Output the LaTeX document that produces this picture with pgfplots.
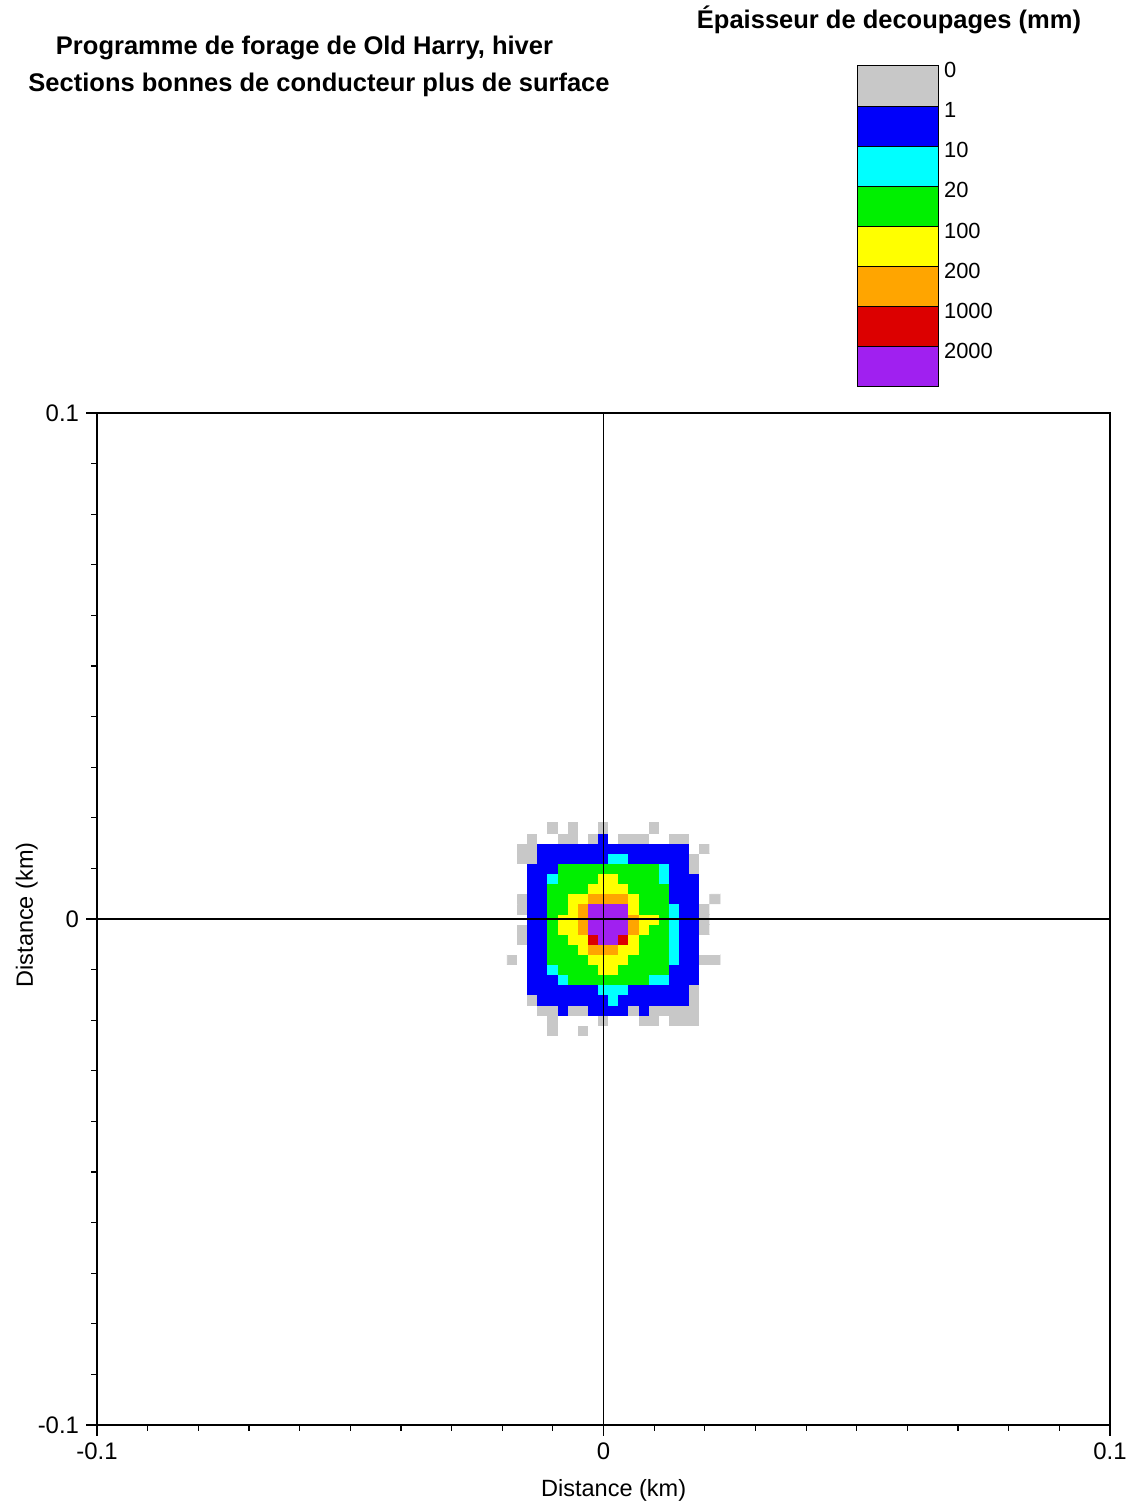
\documentclass[border=0pt]{standalone}
\usepackage{fontspec}
\setmainfont{Liberation Sans}
\usepackage{pgfplots}
\pgfplotsset{compat=1.18}
\definecolor{cgray}{RGB}{200,200,200}
\definecolor{cblue}{RGB}{0,0,250}
\definecolor{ccyan}{RGB}{0,255,255}
\definecolor{cgreen}{RGB}{0,240,0}
\definecolor{cyellow}{RGB}{255,255,0}
\definecolor{corange}{RGB}{255,165,0}
\definecolor{cred}{RGB}{220,0,0}
\definecolor{cpurple}{RGB}{160,32,240}
\begin{document}
\begin{tikzpicture}[x=1bp,y=1bp]
\path[use as bounding box] (0,0) rectangle (566,752.5);
\begin{axis}[
  at={(48.5bp,40bp)}, anchor=south west,
  scale only axis, width=506.5bp, height=506bp,
  xmin=-0.1, xmax=0.1, ymin=-0.1, ymax=0.1,
  xtick={-0.1,0,0.1}, ytick={-0.1,0,0.1},
  xticklabels={-0.1,0,0.1}, yticklabels={-0.1,0,0.1},
  minor tick num=9,
  tick align=outside, tick pos=left,
  major tick length=5.5bp, minor tick length=3bp,
  tick style={black, line width=0.6bp},
  grid=major, major grid style={black, line width=0.6bp},
  axis on top,
  axis line style={line width=0.6bp},
  tick label style={font=\fontsize{12}{14}\selectfont},
  xlabel={Distance (km)}, ylabel={Distance (km)},
  label style={font=\fontsize{11.8}{14}\selectfont},
  xlabel style={at={(axis description cs:0.51,0)}, anchor=base, yshift=-36bp},
  ylabel style={at={(axis description cs:-0.0632,0.504)}, anchor=base},
  colormap={cuttings}{rgb255=(255,255,255) rgb255=(200,200,200) rgb255=(0,0,250) rgb255=(0,255,255) rgb255=(0,240,0) rgb255=(255,255,0) rgb255=(255,165,0) rgb255=(220,0,0) rgb255=(160,32,240)},
  colormap access=direct,
]
\addplot[matrix plot*, mesh/cols=21, point meta=explicit] table[row sep=\\, meta=c] {
x y c\\
-0.018 -0.022 0\\ -0.016 -0.022 0\\ -0.014 -0.022 0\\ -0.012 -0.022 0\\ -0.010 -0.022 1\\ -0.008 -0.022 0\\ -0.006 -0.022 0\\ -0.004 -0.022 1\\ -0.002 -0.022 0\\ 0 -0.022 0\\ 0.002 -0.022 0\\ 0.004 -0.022 0\\ 0.006 -0.022 0\\ 0.008 -0.022 0\\ 0.010 -0.022 0\\ 0.012 -0.022 0\\ 0.014 -0.022 0\\ 0.016 -0.022 0\\ 0.018 -0.022 0\\ 0.020 -0.022 0\\ 0.022 -0.022 0\\
-0.018 -0.020 0\\ -0.016 -0.020 0\\ -0.014 -0.020 0\\ -0.012 -0.020 0\\ -0.010 -0.020 1\\ -0.008 -0.020 0\\ -0.006 -0.020 0\\ -0.004 -0.020 0\\ -0.002 -0.020 0\\ 0 -0.020 1\\ 0.002 -0.020 0\\ 0.004 -0.020 0\\ 0.006 -0.020 0\\ 0.008 -0.020 1\\ 0.010 -0.020 1\\ 0.012 -0.020 0\\ 0.014 -0.020 1\\ 0.016 -0.020 1\\ 0.018 -0.020 1\\ 0.020 -0.020 0\\ 0.022 -0.020 0\\
-0.018 -0.018 0\\ -0.016 -0.018 0\\ -0.014 -0.018 0\\ -0.012 -0.018 1\\ -0.010 -0.018 1\\ -0.008 -0.018 2\\ -0.006 -0.018 1\\ -0.004 -0.018 1\\ -0.002 -0.018 2\\ 0 -0.018 2\\ 0.002 -0.018 2\\ 0.004 -0.018 2\\ 0.006 -0.018 1\\ 0.008 -0.018 2\\ 0.010 -0.018 1\\ 0.012 -0.018 1\\ 0.014 -0.018 1\\ 0.016 -0.018 1\\ 0.018 -0.018 1\\ 0.020 -0.018 0\\ 0.022 -0.018 0\\
-0.018 -0.016 0\\ -0.016 -0.016 0\\ -0.014 -0.016 1\\ -0.012 -0.016 2\\ -0.010 -0.016 2\\ -0.008 -0.016 2\\ -0.006 -0.016 2\\ -0.004 -0.016 2\\ -0.002 -0.016 2\\ 0 -0.016 2\\ 0.002 -0.016 3\\ 0.004 -0.016 2\\ 0.006 -0.016 2\\ 0.008 -0.016 2\\ 0.010 -0.016 2\\ 0.012 -0.016 2\\ 0.014 -0.016 2\\ 0.016 -0.016 2\\ 0.018 -0.016 1\\ 0.020 -0.016 0\\ 0.022 -0.016 0\\
-0.018 -0.014 0\\ -0.016 -0.014 0\\ -0.014 -0.014 2\\ -0.012 -0.014 2\\ -0.010 -0.014 2\\ -0.008 -0.014 2\\ -0.006 -0.014 2\\ -0.004 -0.014 2\\ -0.002 -0.014 2\\ 0 -0.014 3\\ 0.002 -0.014 3\\ 0.004 -0.014 3\\ 0.006 -0.014 2\\ 0.008 -0.014 2\\ 0.010 -0.014 2\\ 0.012 -0.014 2\\ 0.014 -0.014 2\\ 0.016 -0.014 2\\ 0.018 -0.014 1\\ 0.020 -0.014 0\\ 0.022 -0.014 0\\
-0.018 -0.012 0\\ -0.016 -0.012 0\\ -0.014 -0.012 2\\ -0.012 -0.012 2\\ -0.010 -0.012 2\\ -0.008 -0.012 3\\ -0.006 -0.012 4\\ -0.004 -0.012 4\\ -0.002 -0.012 4\\ 0 -0.012 4\\ 0.002 -0.012 4\\ 0.004 -0.012 4\\ 0.006 -0.012 4\\ 0.008 -0.012 4\\ 0.010 -0.012 3\\ 0.012 -0.012 3\\ 0.014 -0.012 2\\ 0.016 -0.012 2\\ 0.018 -0.012 2\\ 0.020 -0.012 0\\ 0.022 -0.012 0\\
-0.018 -0.010 0\\ -0.016 -0.010 0\\ -0.014 -0.010 2\\ -0.012 -0.010 2\\ -0.010 -0.010 3\\ -0.008 -0.010 4\\ -0.006 -0.010 4\\ -0.004 -0.010 4\\ -0.002 -0.010 4\\ 0 -0.010 5\\ 0.002 -0.010 5\\ 0.004 -0.010 4\\ 0.006 -0.010 4\\ 0.008 -0.010 4\\ 0.010 -0.010 4\\ 0.012 -0.010 4\\ 0.014 -0.010 2\\ 0.016 -0.010 2\\ 0.018 -0.010 2\\ 0.020 -0.010 0\\ 0.022 -0.010 0\\
-0.018 -0.008 1\\ -0.016 -0.008 0\\ -0.014 -0.008 2\\ -0.012 -0.008 2\\ -0.010 -0.008 4\\ -0.008 -0.008 4\\ -0.006 -0.008 4\\ -0.004 -0.008 4\\ -0.002 -0.008 5\\ 0 -0.008 5\\ 0.002 -0.008 5\\ 0.004 -0.008 5\\ 0.006 -0.008 4\\ 0.008 -0.008 4\\ 0.010 -0.008 4\\ 0.012 -0.008 4\\ 0.014 -0.008 3\\ 0.016 -0.008 2\\ 0.018 -0.008 2\\ 0.020 -0.008 1\\ 0.022 -0.008 1\\
-0.018 -0.006 0\\ -0.016 -0.006 0\\ -0.014 -0.006 2\\ -0.012 -0.006 2\\ -0.010 -0.006 4\\ -0.008 -0.006 4\\ -0.006 -0.006 4\\ -0.004 -0.006 5\\ -0.002 -0.006 6\\ 0 -0.006 6\\ 0.002 -0.006 6\\ 0.004 -0.006 5\\ 0.006 -0.006 5\\ 0.008 -0.006 4\\ 0.010 -0.006 4\\ 0.012 -0.006 4\\ 0.014 -0.006 3\\ 0.016 -0.006 2\\ 0.018 -0.006 2\\ 0.020 -0.006 0\\ 0.022 -0.006 0\\
-0.018 -0.004 0\\ -0.016 -0.004 1\\ -0.014 -0.004 2\\ -0.012 -0.004 2\\ -0.010 -0.004 4\\ -0.008 -0.004 4\\ -0.006 -0.004 5\\ -0.004 -0.004 5\\ -0.002 -0.004 7\\ 0 -0.004 8\\ 0.002 -0.004 8\\ 0.004 -0.004 7\\ 0.006 -0.004 5\\ 0.008 -0.004 4\\ 0.010 -0.004 4\\ 0.012 -0.004 4\\ 0.014 -0.004 3\\ 0.016 -0.004 2\\ 0.018 -0.004 2\\ 0.020 -0.004 0\\ 0.022 -0.004 0\\
-0.018 -0.002 0\\ -0.016 -0.002 1\\ -0.014 -0.002 2\\ -0.012 -0.002 2\\ -0.010 -0.002 4\\ -0.008 -0.002 5\\ -0.006 -0.002 5\\ -0.004 -0.002 6\\ -0.002 -0.002 8\\ 0 -0.002 8\\ 0.002 -0.002 8\\ 0.004 -0.002 8\\ 0.006 -0.002 6\\ 0.008 -0.002 5\\ 0.010 -0.002 4\\ 0.012 -0.002 4\\ 0.014 -0.002 3\\ 0.016 -0.002 2\\ 0.018 -0.002 2\\ 0.020 -0.002 1\\ 0.022 -0.002 0\\
-0.018 0 0\\ -0.016 0 0\\ -0.014 0 2\\ -0.012 0 2\\ -0.010 0 4\\ -0.008 0 5\\ -0.006 0 5\\ -0.004 0 6\\ -0.002 0 8\\ 0 0 8\\ 0.002 0 8\\ 0.004 0 8\\ 0.006 0 6\\ 0.008 0 5\\ 0.010 0 5\\ 0.012 0 4\\ 0.014 0 3\\ 0.016 0 2\\ 0.018 0 2\\ 0.020 0 1\\ 0.022 0 0\\
-0.018 0.002 0\\ -0.016 0.002 1\\ -0.014 0.002 2\\ -0.012 0.002 2\\ -0.010 0.002 4\\ -0.008 0.002 4\\ -0.006 0.002 5\\ -0.004 0.002 6\\ -0.002 0.002 8\\ 0 0.002 8\\ 0.002 0.002 8\\ 0.004 0.002 8\\ 0.006 0.002 5\\ 0.008 0.002 4\\ 0.010 0.002 4\\ 0.012 0.002 4\\ 0.014 0.002 3\\ 0.016 0.002 2\\ 0.018 0.002 2\\ 0.020 0.002 1\\ 0.022 0.002 0\\
-0.018 0.004 0\\ -0.016 0.004 1\\ -0.014 0.004 2\\ -0.012 0.004 2\\ -0.010 0.004 4\\ -0.008 0.004 4\\ -0.006 0.004 5\\ -0.004 0.004 5\\ -0.002 0.004 6\\ 0 0.004 6\\ 0.002 0.004 6\\ 0.004 0.004 6\\ 0.006 0.004 5\\ 0.008 0.004 4\\ 0.010 0.004 4\\ 0.012 0.004 4\\ 0.014 0.004 2\\ 0.016 0.004 2\\ 0.018 0.004 2\\ 0.020 0.004 0\\ 0.022 0.004 1\\
-0.018 0.006 0\\ -0.016 0.006 0\\ -0.014 0.006 2\\ -0.012 0.006 2\\ -0.010 0.006 4\\ -0.008 0.006 4\\ -0.006 0.006 4\\ -0.004 0.006 4\\ -0.002 0.006 5\\ 0 0.006 5\\ 0.002 0.006 5\\ 0.004 0.006 5\\ 0.006 0.006 4\\ 0.008 0.006 4\\ 0.010 0.006 4\\ 0.012 0.006 4\\ 0.014 0.006 2\\ 0.016 0.006 2\\ 0.018 0.006 2\\ 0.020 0.006 0\\ 0.022 0.006 0\\
-0.018 0.008 0\\ -0.016 0.008 0\\ -0.014 0.008 2\\ -0.012 0.008 2\\ -0.010 0.008 3\\ -0.008 0.008 4\\ -0.006 0.008 4\\ -0.004 0.008 4\\ -0.002 0.008 4\\ 0 0.008 5\\ 0.002 0.008 5\\ 0.004 0.008 4\\ 0.006 0.008 4\\ 0.008 0.008 4\\ 0.010 0.008 4\\ 0.012 0.008 3\\ 0.014 0.008 2\\ 0.016 0.008 2\\ 0.018 0.008 2\\ 0.020 0.008 0\\ 0.022 0.008 0\\
-0.018 0.010 0\\ -0.016 0.010 0\\ -0.014 0.010 2\\ -0.012 0.010 2\\ -0.010 0.010 2\\ -0.008 0.010 4\\ -0.006 0.010 4\\ -0.004 0.010 4\\ -0.002 0.010 4\\ 0 0.010 4\\ 0.002 0.010 4\\ 0.004 0.010 4\\ 0.006 0.010 4\\ 0.008 0.010 4\\ 0.010 0.010 4\\ 0.012 0.010 3\\ 0.014 0.010 2\\ 0.016 0.010 2\\ 0.018 0.010 1\\ 0.020 0.010 0\\ 0.022 0.010 0\\
-0.018 0.012 0\\ -0.016 0.012 1\\ -0.014 0.012 1\\ -0.012 0.012 2\\ -0.010 0.012 2\\ -0.008 0.012 2\\ -0.006 0.012 2\\ -0.004 0.012 2\\ -0.002 0.012 2\\ 0 0.012 2\\ 0.002 0.012 3\\ 0.004 0.012 3\\ 0.006 0.012 2\\ 0.008 0.012 2\\ 0.010 0.012 2\\ 0.012 0.012 2\\ 0.014 0.012 2\\ 0.016 0.012 2\\ 0.018 0.012 1\\ 0.020 0.012 0\\ 0.022 0.012 0\\
-0.018 0.014 0\\ -0.016 0.014 1\\ -0.014 0.014 1\\ -0.012 0.014 2\\ -0.010 0.014 2\\ -0.008 0.014 2\\ -0.006 0.014 2\\ -0.004 0.014 2\\ -0.002 0.014 2\\ 0 0.014 2\\ 0.002 0.014 2\\ 0.004 0.014 2\\ 0.006 0.014 2\\ 0.008 0.014 2\\ 0.010 0.014 2\\ 0.012 0.014 2\\ 0.014 0.014 2\\ 0.016 0.014 2\\ 0.018 0.014 0\\ 0.020 0.014 1\\ 0.022 0.014 0\\
-0.018 0.016 0\\ -0.016 0.016 0\\ -0.014 0.016 1\\ -0.012 0.016 0\\ -0.010 0.016 0\\ -0.008 0.016 1\\ -0.006 0.016 1\\ -0.004 0.016 0\\ -0.002 0.016 1\\ 0 0.016 2\\ 0.002 0.016 0\\ 0.004 0.016 1\\ 0.006 0.016 1\\ 0.008 0.016 1\\ 0.010 0.016 0\\ 0.012 0.016 0\\ 0.014 0.016 1\\ 0.016 0.016 1\\ 0.018 0.016 0\\ 0.020 0.016 0\\ 0.022 0.016 0\\
-0.018 0.018 0\\ -0.016 0.018 0\\ -0.014 0.018 0\\ -0.012 0.018 0\\ -0.010 0.018 1\\ -0.008 0.018 0\\ -0.006 0.018 1\\ -0.004 0.018 0\\ -0.002 0.018 0\\ 0 0.018 1\\ 0.002 0.018 0\\ 0.004 0.018 0\\ 0.006 0.018 0\\ 0.008 0.018 0\\ 0.010 0.018 1\\ 0.012 0.018 0\\ 0.014 0.018 0\\ 0.016 0.018 0\\ 0.018 0.018 0\\ 0.020 0.018 0\\ 0.022 0.018 0\\
};
\end{axis}
\begin{axis}[
  at={(428.5bp,559bp)}, anchor=south west,
  scale only axis, width=40.5bp, height=160.5bp,
  xmin=0, xmax=1, ymin=0, ymax=8,
  axis x line=none, axis y line*=right,
  y axis line style={draw=none},
  ytick={1,2,3,4,5,6,7,8},
  yticklabels={2000,1000,200,100,20,10,1,0},
  major tick length=0pt,
  yticklabel style={font=\fontsize{11}{13}\selectfont, yshift=-2bp, xshift=-0.5bp},
  clip=false,
]
\addplot[fill=cpurple, draw=black, line width=0.5bp] coordinates {(0,0) (1,0) (1,1) (0,1) (0,0)};
\addplot[fill=cred, draw=black, line width=0.5bp] coordinates {(0,1) (1,1) (1,2) (0,2) (0,1)};
\addplot[fill=corange, draw=black, line width=0.5bp] coordinates {(0,2) (1,2) (1,3) (0,3) (0,2)};
\addplot[fill=cyellow, draw=black, line width=0.5bp] coordinates {(0,3) (1,3) (1,4) (0,4) (0,3)};
\addplot[fill=cgreen, draw=black, line width=0.5bp] coordinates {(0,4) (1,4) (1,5) (0,5) (0,4)};
\addplot[fill=ccyan, draw=black, line width=0.5bp] coordinates {(0,5) (1,5) (1,6) (0,6) (0,5)};
\addplot[fill=cblue, draw=black, line width=0.5bp] coordinates {(0,6) (1,6) (1,7) (0,7) (0,6)};
\addplot[fill=cgray, draw=black, line width=0.5bp] coordinates {(0,7) (1,7) (1,8) (0,8) (0,7)};
\end{axis}
\node[anchor=base, font=\bfseries\fontsize{12.8}{15}\selectfont] at (152.25,725) {Programme de forage de Old Harry, hiver};
\node[anchor=base, font=\bfseries\fontsize{12.8}{15}\selectfont] at (159.5,706.5) {Sections bonnes de conducteur plus de surface};
\node[anchor=base, font=\bfseries\fontsize{12.8}{15}\selectfont] at (444.5,738) {Épaisseur de decoupages (mm)};
\end{tikzpicture}
\end{document}
